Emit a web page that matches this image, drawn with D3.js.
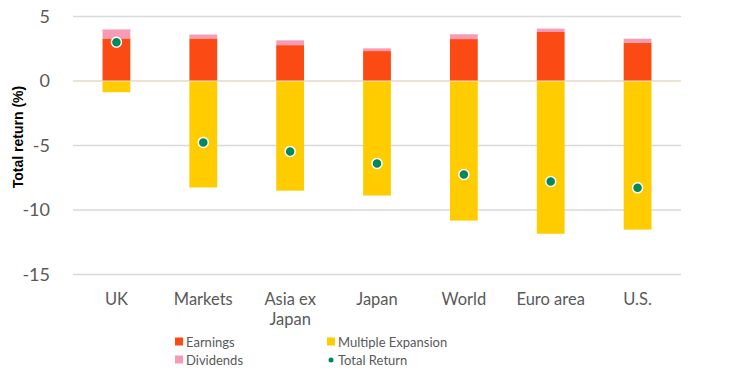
<!DOCTYPE html>
<html>
<head>
<meta charset="utf-8">
<script src="https://cdn.jsdelivr.net/npm/d3@7"></script>
<style>
  body { margin: 0; background: #fff; font-family: Lato, "Open Sans", sans-serif; }
</style>
</head>
<body>
<div id="chart"></div>
<script>
// data
const categories = ["UK", "Markets", "Asia ex Japan", "Japan", "World", "Euro area", "U.S."];
const earnings   = [3.3, 3.3, 2.78, 2.32, 3.25, 3.8, 2.97];
const dividends  = [0.7, 0.3, 0.37, 0.21, 0.37, 0.26, 0.31];
const multipleExpansion = [-0.87, -8.25, -8.5, -8.88, -10.82, -11.84, -11.52];
const totalReturn = [3.0, -4.76, -5.46, -6.39, -7.25, -7.79, -8.28];
const yTicks = [5, 0, -5, -10, -15];

const colors = {
  earnings: "#FC4A14",
  multiple: "#FFCC00",
  dividends: "#F79BB5",
  total: "#00875A"
};

const W = 756, H = 376;
const svg = d3.select("#chart").append("svg")
  .attr("width", W).attr("height", H);

const x = d3.scaleBand()
  .domain(categories)
  .range([73, 681])
  .paddingInner(0.68)
  .paddingOuter(0.34);

const y = d3.scaleLinear()
  .domain([-15, 5])
  .range([274.5, 16.5]);

// gridlines
svg.append("g")
  .selectAll("line")
  .data(yTicks)
  .join("line")
  .attr("x1", 73).attr("x2", 681)
  .attr("y1", d => y(d)).attr("y2", d => y(d))
  .attr("stroke", "#D9D9D9")
  .attr("stroke-width", 1.5);

// y tick labels
svg.append("g")
  .selectAll("text")
  .data(yTicks)
  .join("text")
  .attr("x", 50)
  .attr("y", d => y(d))
  .attr("dy", "0.35em")
  .attr("text-anchor", "end")
  .attr("font-size", 18)
  .attr("fill", "#595959")
  .text(d => d);

// axis title
svg.append("text")
  .attr("transform", `translate(23,137) rotate(-90)`)
  .attr("text-anchor", "middle")
  .attr("font-family", "'Liberation Sans', Arial, sans-serif")
  .attr("font-size", 14)
  .attr("font-weight", "bold")
  .attr("fill", "#000")
  .text("Total return (%)");

const bw = x.bandwidth();

// multiple expansion (negative)
svg.append("g")
  .selectAll("rect")
  .data(categories)
  .join("rect")
  .attr("x", d => x(d))
  .attr("width", bw)
  .attr("y", y(0))
  .attr("height", (d, i) => y(multipleExpansion[i]) - y(0))
  .attr("fill", colors.multiple);

// earnings
svg.append("g")
  .selectAll("rect")
  .data(categories)
  .join("rect")
  .attr("x", d => x(d))
  .attr("width", bw)
  .attr("y", (d, i) => y(earnings[i]))
  .attr("height", (d, i) => y(0) - y(earnings[i]))
  .attr("fill", colors.earnings);

// dividends stacked on earnings
svg.append("g")
  .selectAll("rect")
  .data(categories)
  .join("rect")
  .attr("x", d => x(d))
  .attr("width", bw)
  .attr("y", (d, i) => y(earnings[i] + dividends[i]))
  .attr("height", (d, i) => y(earnings[i]) - y(earnings[i] + dividends[i]))
  .attr("fill", colors.dividends);

// zero line shows faintly across the bars
svg.append("line")
  .attr("x1", 73).attr("x2", 681)
  .attr("y1", y(0)).attr("y2", y(0))
  .attr("stroke", "#F3E3C8")
  .attr("stroke-width", 1);

// total return dots
svg.append("g")
  .selectAll("circle")
  .data(categories)
  .join("circle")
  .attr("cx", d => x(d) + bw / 2)
  .attr("cy", (d, i) => y(totalReturn[i]))
  .attr("r", 5)
  .attr("fill", colors.total)
  .attr("stroke", "#fff")
  .attr("stroke-width", 1.5);

// category labels (wrap "Asia ex Japan")
const catLabels = svg.append("g")
  .selectAll("text")
  .data(categories)
  .join("text")
  .attr("x", d => x(d) + bw / 2)
  .attr("y", 305)
  .attr("text-anchor", "middle")
  .attr("font-size", 16.5)
  .attr("fill", "#595959");

catLabels.each(function(d) {
  const t = d3.select(this);
  const lines = d === "Asia ex Japan" ? ["Asia ex", "Japan"] : [d];
  lines.forEach((l, k) => {
    t.append("tspan")
      .attr("x", x(d) + bw / 2)
      .attr("dy", k === 0 ? 0 : 20)
      .text(l);
  });
});

// legend
const legendData = [
  { label: "Earnings", color: colors.earnings, type: "rect", lx: 175, ly: 342 },
  { label: "Multiple Expansion", color: colors.multiple, type: "rect", lx: 327, ly: 342 },
  { label: "Dividends", color: colors.dividends, type: "rect", lx: 175, ly: 360 },
  { label: "Total Return", color: colors.total, type: "dot", lx: 327, ly: 360 }
];

const lg = svg.append("g")
  .selectAll("g")
  .data(legendData)
  .join("g")
  .attr("transform", d => `translate(${d.lx},${d.ly})`);

lg.filter(d => d.type === "rect")
  .append("rect")
  .attr("x", 0).attr("y", -4.5)
  .attr("width", 8).attr("height", 8)
  .attr("fill", d => d.color);

lg.filter(d => d.type === "dot")
  .append("circle")
  .attr("cx", 4).attr("cy", 0)
  .attr("r", 2.5)
  .attr("fill", d => d.color);

lg.append("text")
  .attr("x", 11)
  .attr("dy", "0.35em")
  .attr("font-size", 13)
  .attr("fill", "#595959")
  .text(d => d.label);
</script>
</body>
</html>
